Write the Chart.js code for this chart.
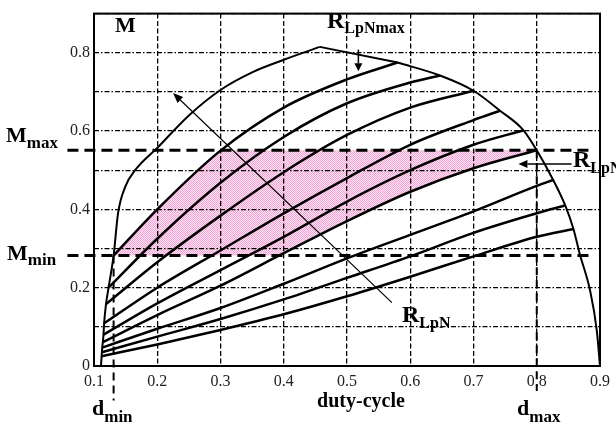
<!DOCTYPE html>
<html><head><meta charset="utf-8">
<script src="https://cdn.jsdelivr.net/npm/chart.js@4.4.0/dist/chart.umd.min.js"></script>
<style>html,body{margin:0;padding:0;background:#fff;}canvas{display:block;}</style>
</head><body>
<canvas id="c" width="616" height="427"></canvas>
<script>
// ---- data ----
const xTicks = ['0.1','0.2','0.3','0.4','0.5','0.6','0.7','0.8','0.9'];
const yTicks = ['0','0.2','0.4','0.6','0.8'];
const M_MIN = 0.282, M_MAX = 0.551, D_MIN = 0.131, D_MAX = 0.8;

const envelopeLeft = [[0.111,0],[0.112,0.025],[0.1125,0.035],[0.113,0.047],[0.114,0.061],[0.115,0.08],[0.116,0.109],[0.119,0.158],[0.123,0.2],[0.131,0.282],[0.138,0.39],[0.15,0.46],[0.165,0.5],[0.2,0.557],[0.25,0.64],[0.3,0.705],[0.35,0.75],[0.4,0.782],[0.457,0.815]];
const envelopeTop = [[0.457,0.815],[0.58,0.775]];
const envelopeRight = [[0.58,0.775],[0.647,0.742],[0.70,0.703],[0.742,0.652],[0.779,0.602],[0.80,0.551],[0.826,0.475],[0.845,0.41],[0.858,0.35],[0.868,0.286],[0.884,0.195],[0.895,0.09],[0.9,0.0]];

const rLpNmax = [[0.131,0.282],[0.2,0.40],[0.3,0.55],[0.4,0.66],[0.5,0.732],[0.58,0.775]];
const r2 = [[0.123,0.20],[0.2,0.325],[0.3,0.468],[0.4,0.585],[0.5,0.671],[0.6,0.724],[0.647,0.742]];
const r3 = [[0.119,0.158],[0.2,0.265],[0.3,0.384],[0.4,0.495],[0.5,0.59],[0.6,0.66],[0.70,0.703]];
const r4 = [[0.116,0.109],[0.2,0.20],[0.3,0.295],[0.4,0.39],[0.5,0.48],[0.6,0.565],[0.7,0.628],[0.742,0.652]];
const r5 = [[0.115,0.08],[0.2,0.16],[0.3,0.245],[0.4,0.33],[0.5,0.42],[0.6,0.50],[0.7,0.565],[0.779,0.602]];
const rLpNmin = [[0.114,0.061],[0.2,0.13],[0.3,0.205],[0.4,0.288],[0.5,0.37],[0.6,0.445],[0.7,0.505],[0.8,0.551]];
const r7 = [[0.113,0.047],[0.2,0.095],[0.3,0.148],[0.4,0.21],[0.5,0.275],[0.6,0.335],[0.7,0.395],[0.8,0.46],[0.826,0.475]];
const r8 = [[0.1125,0.035],[0.2,0.075],[0.3,0.12],[0.4,0.17],[0.5,0.225],[0.6,0.28],[0.7,0.34],[0.8,0.39],[0.845,0.41]];
const r9 = [[0.112,0.025],[0.2,0.055],[0.3,0.092],[0.4,0.132],[0.5,0.178],[0.6,0.228],[0.7,0.28],[0.8,0.33],[0.858,0.35]];

// ---- helpers ----
const toPts = a => a.map(([x, y]) => ({x, y}));
function crossX(curve, level) {
  for (let i = 0; i < curve.length - 1; i++) {
    const [x0, y0] = curve[i], [x1, y1] = curve[i + 1];
    if ((y0 - level) * (y1 - level) <= 0 && y0 !== y1) return x0 + (level - y0) / (y1 - y0) * (x1 - x0);
  }
  return curve[curve.length - 1][0];
}
// shaded region bounds built from the curves and levels
const upperBound = [...rLpNmax.filter(p => p[1] < M_MAX).map(([x,y]) => ({x,y})),
  {x: crossX(rLpNmax, M_MAX), y: M_MAX}, {x: D_MAX, y: M_MAX}];
const lowerBound = [{x: rLpNmax[0][0], y: M_MIN}, {x: crossX(rLpNmin, M_MIN), y: M_MIN},
  ...rLpNmin.filter(p => p[1] > M_MIN).map(([x,y]) => ({x,y}))];

// pink dotted pattern
const pc = document.createElement('canvas'); pc.width = 2; pc.height = 2;
const pctx = pc.getContext('2d');
pctx.fillStyle = '#fde4f2'; pctx.fillRect(0,0,2,2);
pctx.fillStyle = '#f3a3d6'; pctx.fillRect(0,0,1,1); pctx.fillRect(1,1,1,1);
const pinkPattern = document.getElementById('c').getContext('2d').createPattern(pc, 'repeat');

const curveDs = (pts, w) => ({data: toPts(pts), showLine: true, borderColor: '#000', borderWidth: w,
  pointRadius: 0, cubicInterpolationMode: 'monotone', fill: false, order: 0});

const datasets = [
  {data: upperBound, showLine: true, borderWidth: 0, pointRadius: 0, cubicInterpolationMode: 'monotone',
   fill: '+1', backgroundColor: pinkPattern, borderColor: 'rgba(0,0,0,0)', order: 20},
  {data: lowerBound, showLine: true, borderWidth: 0, pointRadius: 0, cubicInterpolationMode: 'monotone',
   fill: false, borderColor: 'rgba(0,0,0,0)', order: 19},
  {data: [{x: 0.058, y: M_MAX}, {x: 0.889, y: M_MAX}], showLine: true, borderColor: '#000', borderWidth: 3,
   borderDash: [11, 6], pointRadius: 0, clip: false, order: 5},
  {data: [{x: 0.058, y: M_MIN}, {x: 0.889, y: M_MIN}], showLine: true, borderColor: '#000', borderWidth: 3,
   borderDash: [11, 6], pointRadius: 0, clip: false, order: 5},
  {data: [{x: D_MIN, y: M_MIN}, {x: D_MIN, y: -0.088}], showLine: true, borderColor: '#000', borderWidth: 2,
   borderDash: [8, 5], pointRadius: 0, clip: false, order: 5},
  {data: [{x: D_MAX, y: M_MAX}, {x: D_MAX, y: -0.064}], showLine: true, borderColor: '#000', borderWidth: 2,
   borderDash: [8, 5], pointRadius: 0, clip: false, order: 5},
  curveDs(envelopeLeft, 2),
  {data: toPts(envelopeTop), showLine: true, borderColor: '#000', borderWidth: 2, pointRadius: 0, order: 0},
  curveDs(envelopeRight, 2),
  curveDs(rLpNmax, 2.5), curveDs(r2, 2.5), curveDs(r3, 2.5), curveDs(r4, 2.5), curveDs(r5, 2.5),
  curveDs(rLpNmin, 2.5), curveDs(r7, 2.5), curveDs(r8, 2.5), curveDs(r9, 2.5)
];

const SERIF = '"Liberation Serif", "Times New Roman", serif';
function subText(ctx, main, sub, x, base, mSize, sSize, sBase) {
  ctx.font = 'bold ' + mSize + 'px ' + SERIF;
  ctx.fillText(main, x, base);
  const w = ctx.measureText(main).width;
  ctx.font = 'bold ' + sSize + 'px ' + SERIF;
  ctx.fillText(sub, x + w, sBase);
}
function arrow(ctx, x1, y1, x2, y2, lw, hl, hw) {
  ctx.lineWidth = lw; ctx.setLineDash([]);
  const ang = Math.atan2(y2 - y1, x2 - x1);
  const bx = x2 - hl * Math.cos(ang), by = y2 - hl * Math.sin(ang);
  ctx.beginPath(); ctx.moveTo(x1, y1); ctx.lineTo(bx, by); ctx.stroke();
  ctx.beginPath(); ctx.moveTo(x2, y2);
  ctx.lineTo(bx + hw * Math.sin(ang), by - hw * Math.cos(ang));
  ctx.lineTo(bx - hw * Math.sin(ang), by + hw * Math.cos(ang));
  ctx.closePath(); ctx.fill();
}

const annot = {
  id: 'annot',
  afterDraw(chart) {
    const {ctx, chartArea: a, scales: {x, y}} = chart;
    ctx.save();
    ctx.strokeStyle = '#000'; ctx.fillStyle = '#000'; ctx.setLineDash([]);
    ctx.lineWidth = 2;
    ctx.strokeRect(a.left, a.top, a.right - a.left, a.bottom - a.top);
    // arrows
    arrow(ctx, x.getPixelForValue(0.571), y.getPixelForValue(0.162), x.getPixelForValue(0.225), y.getPixelForValue(0.697), 1.2, 10, 4);
    arrow(ctx, x.getPixelForValue(0.518), y.getPixelForValue(0.808), x.getPixelForValue(0.518), y.getPixelForValue(0.753), 1.5, 8, 4);
    arrow(ctx, x.getPixelForValue(0.855), y.getPixelForValue(0.516), x.getPixelForValue(0.771), y.getPixelForValue(0.516), 1.5, 9, 4);
    // texts
    ctx.textAlign = 'left'; ctx.textBaseline = 'alphabetic';
    ctx.font = 'bold 22px ' + SERIF; ctx.fillText('M', 115, 32);
    subText(ctx, 'R', 'LpNmax', 327, 28, 24, 16, 33);
    subText(ctx, 'R', 'LpNmin', 573, 167, 24, 16, 173);
    subText(ctx, 'R', 'LpN', 402, 322, 24, 16, 328);
    subText(ctx, 'M', 'max', 6, 142, 22, 17, 148);
    subText(ctx, 'M', 'min', 7, 260, 22, 17, 265);
    subText(ctx, 'd', 'min', 92, 415, 22, 17, 422);
    subText(ctx, 'd', 'max', 517, 415, 22, 17, 422);
    ctx.textAlign = 'center';
    ctx.font = 'bold 20px ' + SERIF; ctx.fillText('duty-cycle', 361, 407);
    ctx.restore();
  }
};

const tickFont = {family: SERIF, size: 16};
new Chart(document.getElementById('c'), {
  type: 'scatter',
  data: {datasets},
  options: {
    responsive: false, animation: false, devicePixelRatio: 1,
    layout: {padding: {top: 2, right: 15, left: 0, bottom: 0}},
    plugins: {legend: {display: false}, tooltip: {enabled: false}},
    scales: {
      x: {type: 'linear', min: 0.1, max: 0.9,
        afterFit(s) { s.height = 61; },
        ticks: {stepSize: 0.1, autoSkip: false, maxRotation: 0, padding: 6, color: '#222', font: tickFont,
          callback: (v, i) => xTicks[i]},
        grid: {color: '#000', lineWidth: 1.3, drawTicks: false, z: 1},
        border: {display: false, dash: [5, 2.5]}},
      y: {type: 'linear', min: 0, max: 0.9,
        afterFit(s) { s.width = 94; },
        ticks: {stepSize: 0.1, autoSkip: false, padding: 4, color: '#222', font: tickFont,
          callback: (v, i) => (i % 2 === 0 && i / 2 < yTicks.length) ? yTicks[i / 2] : ''},
        grid: {color: '#000', lineWidth: 1.3, drawTicks: false, z: 1},
        border: {display: false, dash: [5, 2, 1.5, 2]}}
    }
  },
  plugins: [annot]
});
</script>
</body></html>
